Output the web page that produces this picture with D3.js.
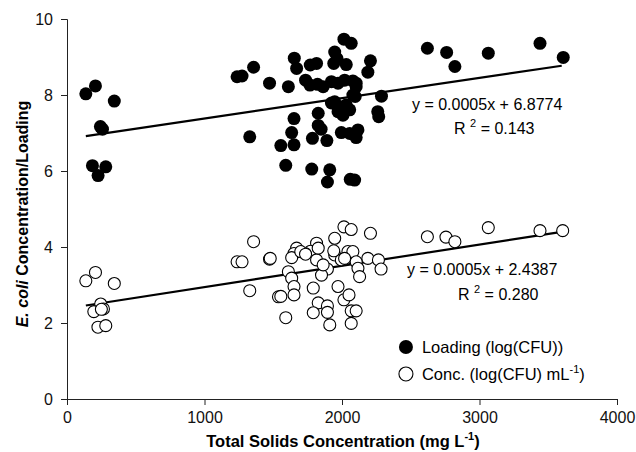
<!DOCTYPE html>
<html>
<head>
<meta charset="utf-8">
<script src="https://cdn.jsdelivr.net/npm/d3@7"></script>
<style>
  body { margin: 0; background: #fff; }
  svg { font-family: 'Liberation Sans', Arial, sans-serif; }
  .axis path, .axis line { stroke: #222; }
  .axis text { font-size: 16px; fill: #111; }
</style>
</head>
<body>
<svg id="chart"></svg>
<script>
// total solids (mg/L) and log values
const loadingTS = [137, 207, 344, 243, 258, 185, 282, 226, 1237, 1273, 1357, 1473, 1329, 1610, 1653, 1670, 1651,
  1634, 1555, 1651, 1591, 1769, 1815, 1735, 1767, 1822, 1863, 1827, 1827, 1848, 1785, 1890, 1780, 1911, 1894,
  2060, 2092, 2014, 2067, 1947, 1964, 1940, 2031, 2207, 2188, 1923, 1971, 2019, 2079, 2103, 1947, 1983, 2031,
  1971, 2007, 2056, 2079, 2096, 2287, 2260, 2267, 1995, 2056, 2116, 2103, 2621, 2761, 2821, 3064, 3440, 3609,
  1923, 2103]
const loadingLog = [8.03, 8.24, 7.84, 7.17, 7.10, 6.14, 6.11, 5.88, 8.48, 8.50, 8.73, 8.31, 6.90, 8.22, 8.97, 8.70, 7.38,
  7.01, 6.67, 6.69, 6.15, 8.79, 8.83, 8.39, 8.26, 8.28, 8.22, 7.52, 7.20, 7.10, 6.86, 6.80, 6.05, 6.03, 5.71,
  5.78, 5.76, 9.47, 9.36, 9.13, 8.96, 8.83, 8.80, 8.90, 8.60, 8.35, 8.31, 8.39, 8.37, 8.22, 7.82, 7.69, 7.74,
  7.56, 7.47, 7.61, 8.00, 7.96, 7.97, 7.56, 7.43, 7.01, 6.99, 7.08, 6.88, 9.23, 9.12, 8.75, 9.10, 9.36, 8.99,
  7.79, 8.31]

const concTS = [137, 207, 344, 245, 195, 265, 250, 225, 282, 1237, 1273, 1357, 1473, 1329, 1538, 2014, 2067, 1947,
  1815, 1771, 1815, 1731, 1670, 1651, 1634, 1947, 1995, 2031, 2043, 1610, 1634, 1651, 1651, 1591, 1791, 1894,
  1851, 1827, 1894, 1791, 1894, 1911, 1971, 2014, 2051, 2067, 2103, 2067, 2207, 2621, 2756, 2821, 3064, 3440,
  3605, 2188, 2265, 2284, 2079, 2019, 2103, 2116, 2128, 1478, 1700, 1735, 1827, 1863, 1555, 1940]
const concLog = [3.11, 3.33, 3.04, 2.50, 2.30, 2.37, 2.36, 1.89, 1.93, 3.61, 3.61, 4.14, 3.68, 2.85, 2.69, 4.53, 4.46, 4.23,
  4.10, 3.89, 3.66, 3.83, 3.97, 3.83, 3.72, 3.79, 3.66, 3.70, 3.88, 3.35, 3.18, 2.96, 2.74, 2.14, 2.92, 3.42,
  3.26, 2.53, 2.45, 2.27, 2.28, 1.95, 2.96, 2.61, 2.74, 2.32, 2.32, 1.99, 4.36, 4.27, 4.26, 4.14, 4.51, 4.43,
  4.43, 3.70, 3.66, 3.42, 3.88, 3.70, 3.61, 3.44, 3.22, 3.70, 3.88, 3.81, 3.97, 3.53, 2.70, 3.90]

// trend line end points
const trendTS = [137, 3598]
const loadingFit = [6.92, 8.77]
const concFit = [2.46, 4.40]

const xTicks = [0, 1000, 2000, 3000, 4000]
const yTicks = [0, 2, 4, 6, 8, 10]

const W = 636
const H = 452
const margin = { top: 19, right: 19, bottom: 53, left: 67 }
const width = W - margin.left - margin.right
const height = H - margin.top - margin.bottom

const svg = d3.select('#chart')
  .attr('width', W)
  .attr('height', H)

const g = svg.append('g')
  .attr('transform', `translate(${margin.left}, ${margin.top})`)

const x = d3.scaleLinear().domain([0, 4000]).range([0, width])
const y = d3.scaleLinear().domain([0, 10]).range([height, 0])

// axes
g.append('g')
  .attr('class', 'axis')
  .attr('transform', `translate(0, ${height})`)
  .call(d3.axisBottom(x).tickValues(xTicks).tickFormat(d3.format('d'))
    .tickSizeOuter(0).tickSize(6).tickPadding(6.5))

g.append('g')
  .attr('class', 'axis')
  .call(d3.axisLeft(y).tickValues(yTicks).tickSizeOuter(0).tickSize(6).tickPadding(8))

// trend lines
const line = d3.line().x(d => x(d[0])).y(d => y(d[1]))
g.append('path')
  .datum(trendTS.map((t, i) => [t, loadingFit[i]]))
  .attr('d', line)
  .attr('fill', 'none')
  .attr('stroke', '#000')
  .attr('stroke-width', 2.2)
g.append('path')
  .datum(trendTS.map((t, i) => [t, concFit[i]]))
  .attr('d', line)
  .attr('fill', 'none')
  .attr('stroke', '#000')
  .attr('stroke-width', 2.2)

// points
g.selectAll('.load')
  .data(loadingTS.map((t, i) => [t, loadingLog[i]]))
  .join('circle')
  .attr('class', 'load')
  .attr('cx', d => x(d[0]))
  .attr('cy', d => y(d[1]))
  .attr('r', 6.5)
  .attr('fill', '#000')

g.selectAll('.conc')
  .data(concTS.map((t, i) => [t, concLog[i]]))
  .join('circle')
  .attr('class', 'conc')
  .attr('cx', d => x(d[0]))
  .attr('cy', d => y(d[1]))
  .attr('r', 6)
  .attr('fill', '#fff')
  .attr('stroke', '#000')
  .attr('stroke-width', 1.1)

// equations
function equation (px, py, eq, r2, r2x) {
  g.append('text')
    .attr('x', px).attr('y', py)
    .style('font-size', '16px')
    .text(eq)
  const t = g.append('text')
    .attr('x', r2x).attr('y', py + 24.5)
    .style('font-size', '16px')
  t.append('tspan').text('R ')
  t.append('tspan').attr('dy', -7).style('font-size', '11px').text('2')
  t.append('tspan').attr('dy', 7).text(' = ' + r2)
}
equation(x(2509), y(7.61), 'y = 0.0005x + 6.8774', '0.143', x(2815))
equation(x(2473), y(3.26), 'y = 0.0005x + 2.4387', '0.280', x(2844))

// legend
const lg = g.append('g').attr('transform', `translate(${x(2465)}, ${y(1.37)})`)
lg.append('circle').attr('r', 7).attr('fill', '#000')
lg.append('text').attr('x', 16).attr('y', 6).style('font-size', '16.5px').text('Loading (log(CFU))')
lg.append('circle').attr('cy', 27).attr('r', 7).attr('fill', '#fff').attr('stroke', '#000').attr('stroke-width', 1.1)
const lt = lg.append('text').attr('x', 16).attr('y', 33).style('font-size', '16.5px')
lt.append('tspan').text('Conc. (log(CFU) mL')
lt.append('tspan').attr('dy', -7).style('font-size', '11px').text('-1')
lt.append('tspan').attr('dy', 7).text(')')

// axis titles
const xt = svg.append('text')
  .attr('x', margin.left + width / 2 + 1)
  .attr('y', 447)
  .attr('text-anchor', 'middle')
  .style('font-size', '16.5px')
  .style('font-weight', 'bold')
xt.append('tspan').text('Total Solids Concentration (mg L')
xt.append('tspan').attr('dy', -7).style('font-size', '11px').text('-1')
xt.append('tspan').attr('dy', 7).text(')')

const yt = svg.append('text')
  .attr('transform', `translate(28, ${margin.top + height / 2 + 5}) rotate(-90)`)
  .attr('text-anchor', 'middle')
  .style('font-size', '16px')
  .style('font-weight', 'bold')
yt.append('tspan').style('font-style', 'italic').text('E. coli')
yt.append('tspan').text(' Concentration/Loading')
</script>
</body>
</html>
